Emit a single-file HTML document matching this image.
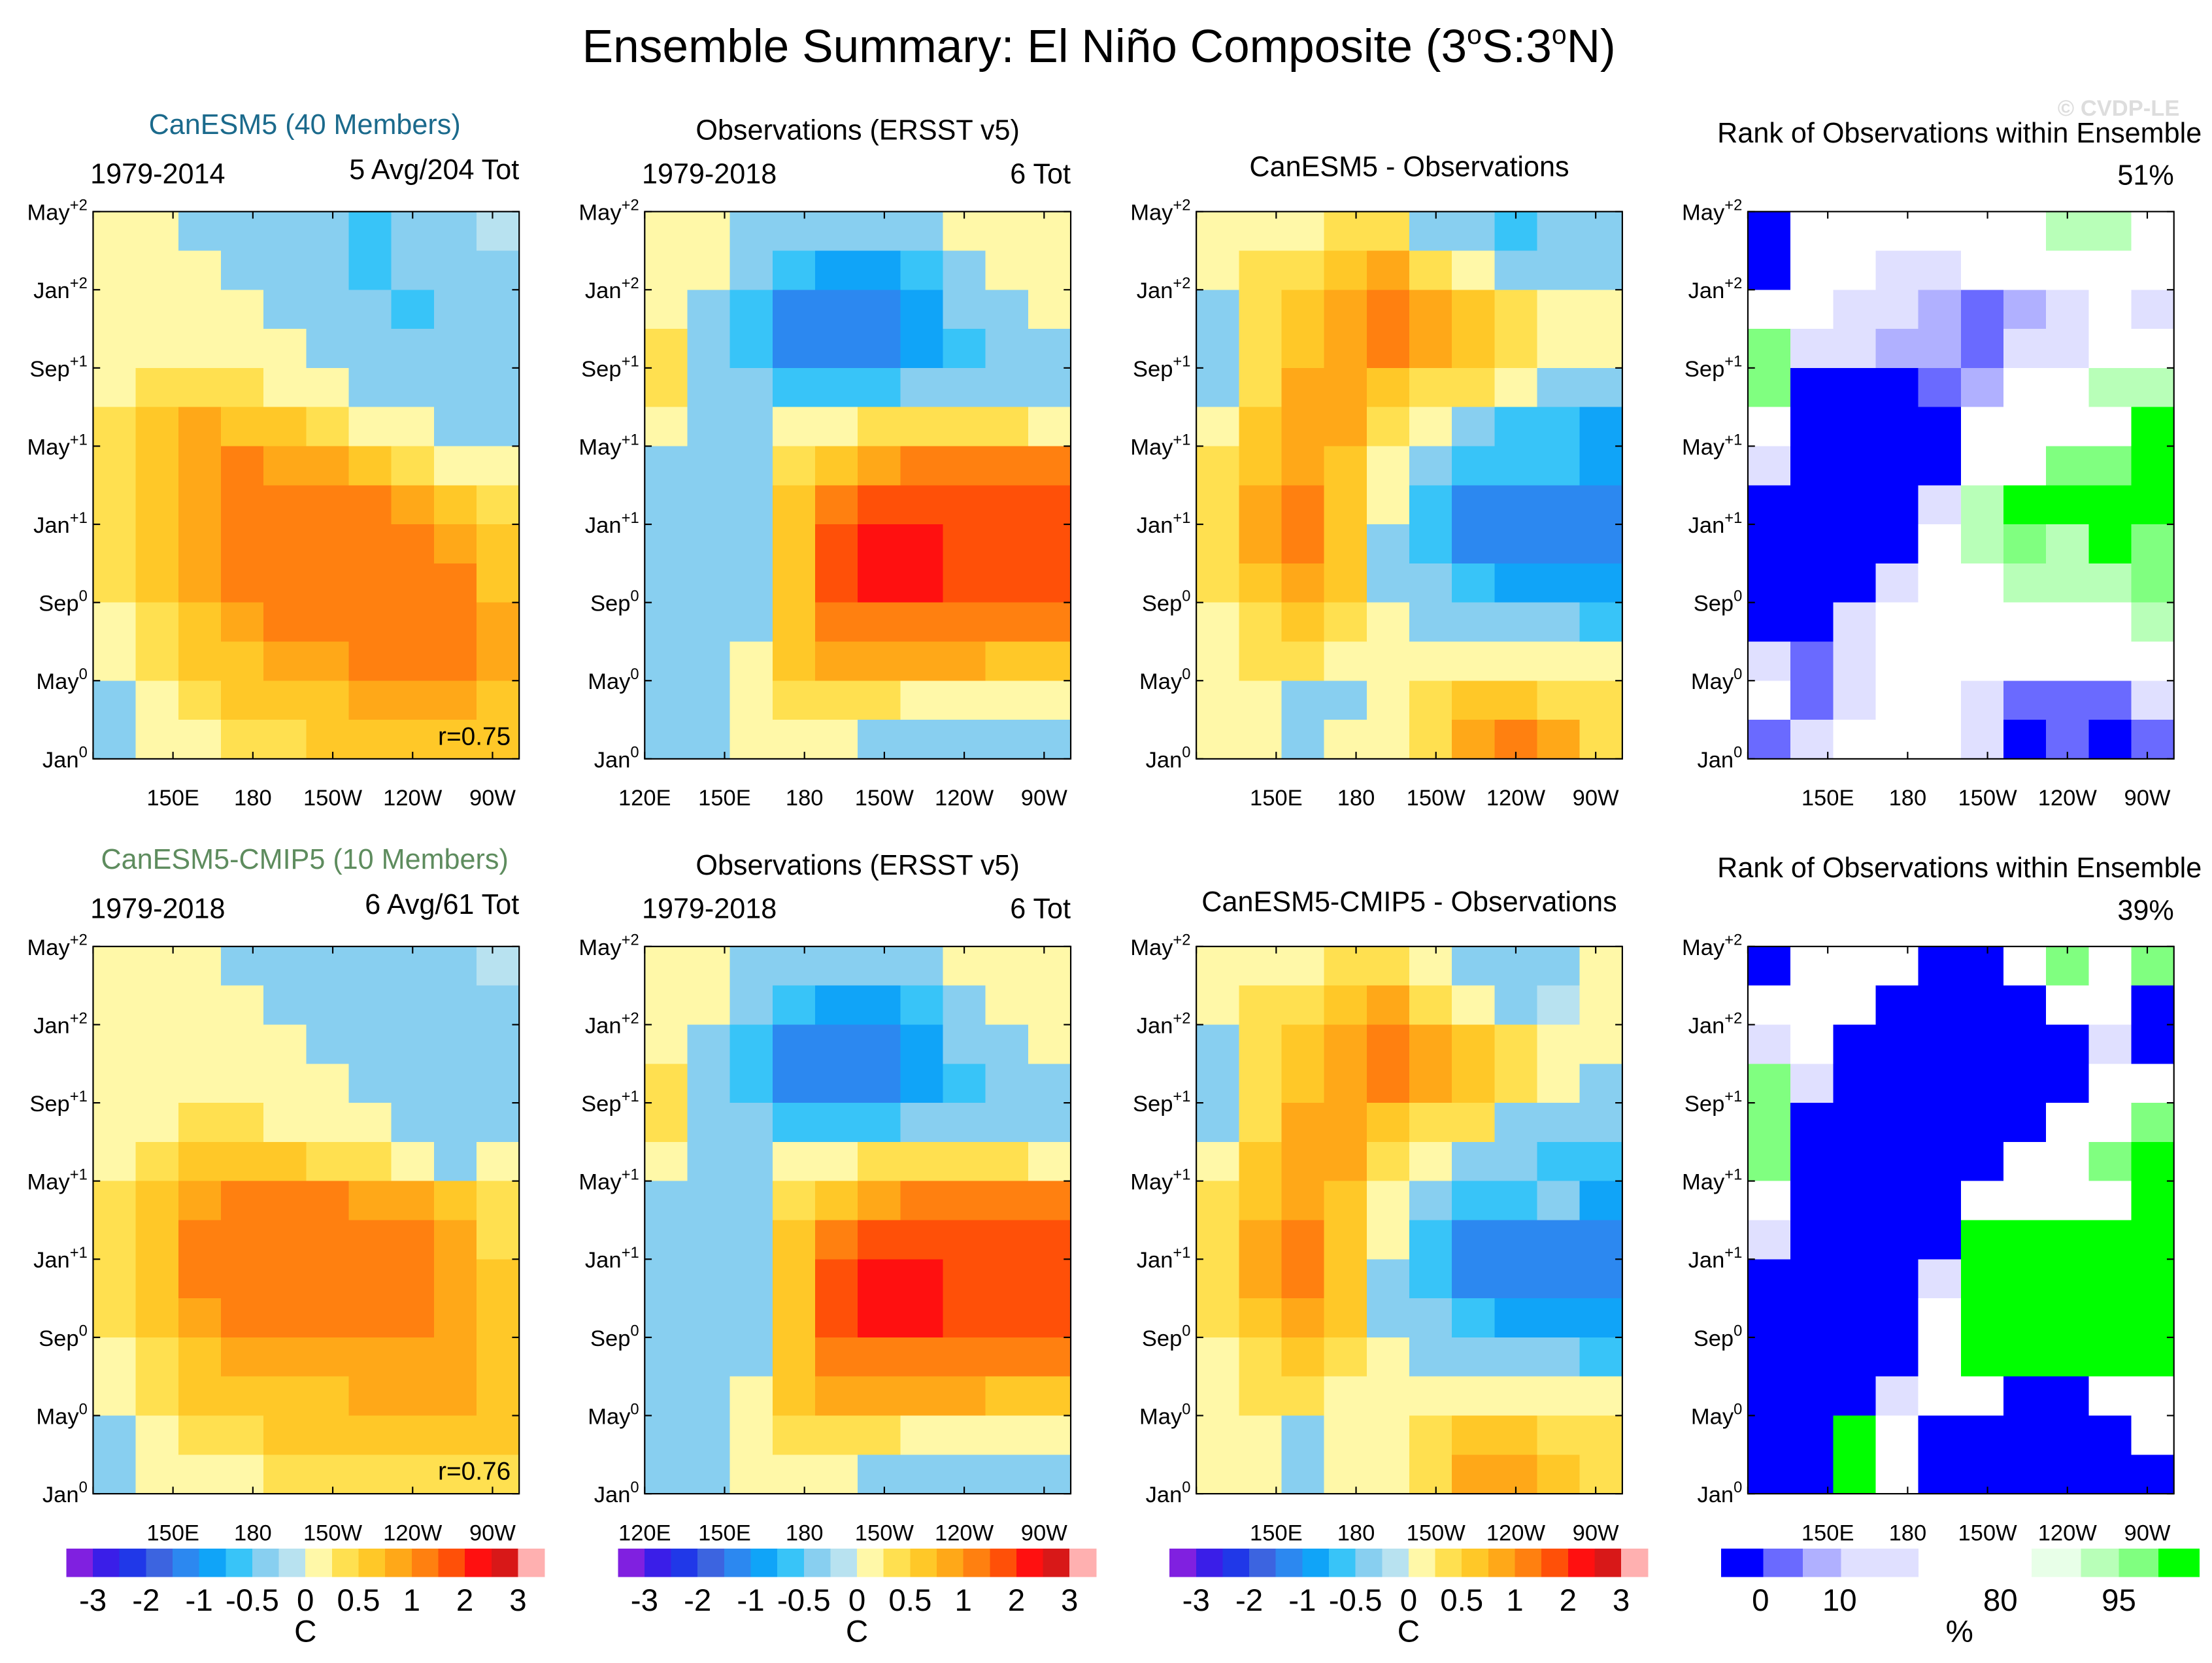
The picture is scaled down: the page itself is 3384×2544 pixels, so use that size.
<!DOCTYPE html>
<html><head><meta charset="utf-8"><style>
html,body{margin:0;padding:0;background:#fff;}
svg{display:block;font-family:"Liberation Sans",Arial,sans-serif;}
</style></head><body>
<svg id="fig" width="3384" height="2544" viewBox="0 0 1568 1179" preserveAspectRatio="none" xmlns="http://www.w3.org/2000/svg">
<rect width="1568" height="1179" fill="#fff"/>
<text x="779" y="44" font-size="33" text-anchor="middle">Ensemble Summary: El Niño Composite (3<tspan dy="-13" font-size="19">o</tspan><tspan dy="13">S:3</tspan><tspan dy="-13" font-size="19">o</tspan><tspan dy="13">N)</tspan></text>
<text x="1545" y="82" font-size="16" text-anchor="end" fill="#ddd" font-weight="bold">© CVDP-LE</text>
<g id="layer"></g>
</svg>
<script>
// ---- data (rows listed top = May+2 down to bottom = Jan0; columns 120E -> 80W) ----
const lonTicks = [120,150,180,210,240,270];
const lonTickLabels = ["120E","150E","180","150W","120W","90W"];
const monthTicks = [0,4,8,12,16,20,24,28];
const monthTickNames = ["Jan","May","Sep","Jan","May","Sep","Jan","May"];
const monthTickSups = ["0","0","0","+1","+1","+1","+2","+2"];
const sstLevels = [-3,-2.5,-2,-1.5,-1,-0.75,-0.5,-0.25,0,0.25,0.5,0.75,1,1.5,2,2.5,3];
const sstBarLabels = ["-3","-2","-1","-0.5","0","0.5","1","2","3"];
const rankLevels = [5,10,20,40,80,90,95,97.5];

const canesm5 = [
[0.1,0.1,-0.3,-0.3,-0.3,-0.4,-0.6,-0.3,-0.3,-0.1],
[0.1,0.1,0.1,-0.3,-0.3,-0.4,-0.6,-0.4,-0.3,-0.3],
[0.1,0.1,0.1,0.1,-0.3,-0.3,-0.4,-0.6,-0.4,-0.3],
[0.1,0.1,0.1,0.1,0.1,-0.3,-0.3,-0.4,-0.4,-0.3],
[0.2,0.3,0.4,0.3,0.2,0.1,-0.3,-0.3,-0.3,-0.3],
[0.3,0.6,0.8,0.6,0.5,0.3,0.2,0.1,-0.3,-0.3],
[0.3,0.6,0.9,1.1,0.9,0.8,0.6,0.4,0.2,0.1],
[0.3,0.6,0.9,1.1,1.1,1.1,1.0,0.8,0.6,0.3],
[0.3,0.6,0.9,1.1,1.1,1.2,1.1,1.1,0.9,0.6],
[0.3,0.5,0.8,1.0,1.1,1.2,1.2,1.1,1.0,0.6],
[0.2,0.4,0.6,0.9,1.0,1.1,1.1,1.2,1.1,0.8],
[0.1,0.3,0.5,0.7,0.8,0.9,1.0,1.1,1.0,0.8],
[-0.3,0.2,0.3,0.5,0.6,0.7,0.8,0.9,0.9,0.7],
[-0.3,0.1,0.2,0.3,0.4,0.5,0.6,0.7,0.7,0.6]];
const observations = [
[0.1,0.1,-0.3,-0.3,-0.4,-0.4,-0.4,0.1,0.1,0.1],
[0.1,0.1,-0.3,-0.6,-0.9,-0.9,-0.6,-0.3,0.1,0.1],
[0.1,-0.3,-0.6,-1.1,-1.1,-1.1,-0.9,-0.4,-0.3,0.1],
[0.3,-0.3,-0.6,-1.1,-1.1,-1.1,-0.9,-0.6,-0.4,-0.3],
[0.3,-0.3,-0.4,-0.6,-0.6,-0.6,-0.4,-0.4,-0.3,-0.3],
[0.1,-0.3,-0.3,0.1,0.1,0.3,0.3,0.3,0.3,0.1],
[-0.3,-0.3,-0.3,0.3,0.7,0.9,1.1,1.1,1.1,1.2],
[-0.3,-0.4,-0.3,0.6,1.2,1.6,1.6,1.6,1.5,1.6],
[-0.3,-0.4,-0.3,0.6,1.6,2.1,2.1,1.8,1.6,1.6],
[-0.4,-0.3,-0.4,0.6,1.5,2.0,2.0,1.8,1.6,1.5],
[-0.4,-0.3,-0.3,0.6,1.1,1.2,1.2,1.2,1.1,1.1],
[-0.3,-0.3,0.1,0.6,0.8,0.8,0.8,0.8,0.6,0.6],
[-0.3,-0.3,0.1,0.3,0.3,0.3,0.2,0.1,0.1,0.1],
[-0.3,-0.3,0.1,0.2,0.1,-0.3,-0.3,-0.3,-0.3,-0.3]];
const diffCanesm5 = [
[0.1,0.1,0.1,0.3,0.3,-0.3,-0.4,-0.6,-0.4,-0.3],
[0.1,0.3,0.3,0.6,0.8,0.4,0.1,-0.3,-0.3,-0.3],
[-0.3,0.3,0.6,0.8,1.0,0.8,0.6,0.3,0.1,0.1],
[-0.3,0.3,0.6,0.9,1.1,0.9,0.6,0.3,0.1,0.1],
[-0.3,0.4,0.8,0.8,0.6,0.4,0.3,0.1,-0.3,-0.4],
[0.1,0.6,0.9,0.8,0.4,0.1,-0.3,-0.6,-0.6,-0.9],
[0.3,0.6,0.9,0.6,0.1,-0.4,-0.6,-0.6,-0.6,-0.9],
[0.3,0.8,1.1,0.6,0.1,-0.6,-1.1,-1.1,-1.1,-1.1],
[0.3,0.8,1.1,0.6,-0.3,-0.6,-1.1,-1.1,-1.1,-1.2],
[0.3,0.6,0.8,0.5,-0.3,-0.4,-0.6,-0.9,-0.9,-0.9],
[0.1,0.4,0.6,0.3,0.1,-0.3,-0.3,-0.3,-0.3,-0.6],
[0.1,0.3,0.3,0.1,0.1,0.1,0.1,0.1,0.1,0.1],
[0.1,0.1,-0.3,-0.3,0.1,0.3,0.6,0.6,0.3,0.3],
[0.1,0.1,-0.3,0.1,0.1,0.3,0.8,1.1,0.8,0.3]];
const rankCanesm5 = [
[3,50,50,50,50,50,50,92,92,50],
[3,50,50,25,25,50,50,50,50,50],
[50,50,25,25,15,8,15,25,50,25],
[97,25,25,15,15,8,25,25,50,50],
[97,3,3,3,8,15,50,50,92,92],
[50,3,3,3,3,50,50,50,50,99],
[25,3,3,3,3,50,50,95,95,99],
[3,3,3,3,25,92,99,99,99,99],
[3,3,3,3,50,92,97,92,99,97],
[3,3,3,25,50,50,92,92,92,97],
[3,3,25,50,50,50,50,50,50,92],
[25,8,25,50,50,50,50,50,50,50],
[50,8,25,50,50,25,8,8,8,25],
[8,25,50,50,50,25,3,8,3,8]];
const cmip5 = [
[0.1,0.1,0.1,-0.3,-0.3,-0.3,-0.3,-0.3,-0.3,-0.1],
[0.1,0.1,0.1,0.1,-0.3,-0.3,-0.4,-0.3,-0.3,-0.3],
[0.1,0.1,0.1,0.1,0.1,-0.3,-0.4,-0.4,-0.3,-0.3],
[0.1,0.1,0.1,0.1,0.1,0.1,-0.3,-0.4,-0.4,-0.3],
[0.1,0.2,0.3,0.3,0.2,0.1,0.1,-0.3,-0.4,-0.3],
[0.2,0.4,0.6,0.6,0.5,0.4,0.3,0.1,-0.3,0.1],
[0.3,0.6,0.9,1.1,1.1,1.0,0.9,0.8,0.6,0.3],
[0.3,0.6,1.0,1.1,1.1,1.1,1.1,1.1,0.8,0.4],
[0.3,0.6,1.0,1.1,1.1,1.1,1.1,1.1,0.9,0.6],
[0.3,0.5,0.9,1.0,1.1,1.1,1.1,1.1,0.9,0.6],
[0.2,0.4,0.6,0.8,0.9,0.9,0.9,0.9,0.8,0.6],
[0.1,0.3,0.5,0.6,0.7,0.7,0.8,0.9,0.8,0.6],
[-0.3,0.1,0.3,0.4,0.5,0.5,0.6,0.6,0.6,0.5],
[-0.3,0.1,0.1,0.2,0.3,0.3,0.3,0.4,0.4,0.3]];
const diffCmip5 = [
[0.1,0.1,0.1,0.3,0.3,0.1,-0.3,-0.3,-0.3,0.1],
[0.1,0.3,0.4,0.6,0.8,0.4,0.1,-0.3,-0.1,0.1],
[-0.3,0.3,0.6,0.9,1.1,0.8,0.6,0.3,0.1,0.1],
[-0.3,0.3,0.6,0.9,1.1,0.9,0.6,0.3,0.1,-0.3],
[-0.3,0.4,0.8,0.8,0.6,0.4,0.3,-0.3,-0.4,-0.4],
[0.1,0.6,0.9,0.8,0.4,0.1,-0.3,-0.4,-0.6,-0.6],
[0.3,0.6,0.9,0.6,0.1,-0.4,-0.6,-0.6,-0.4,-0.9],
[0.3,0.8,1.1,0.6,0.1,-0.6,-1.1,-1.1,-1.1,-1.1],
[0.3,0.8,1.1,0.6,-0.3,-0.6,-1.1,-1.1,-1.1,-1.2],
[0.3,0.6,0.8,0.5,-0.3,-0.4,-0.6,-0.9,-0.9,-0.9],
[0.1,0.4,0.6,0.3,0.1,-0.3,-0.3,-0.4,-0.4,-0.6],
[0.1,0.3,0.3,0.1,0.1,0.1,0.1,0.1,0.1,0.1],
[0.1,0.1,-0.3,0.1,0.1,0.3,0.6,0.6,0.3,0.3],
[0.1,0.1,-0.3,0.1,0.1,0.3,0.8,0.9,0.6,0.3]];
const rankCmip5 = [
[3,50,50,50,3,3,50,97,50,97],
[50,50,50,3,3,3,3,50,50,3],
[25,50,3,3,3,3,3,3,25,3],
[97,25,3,3,3,3,3,3,50,50],
[97,3,3,3,3,3,3,50,50,97],
[97,3,3,3,3,3,50,50,97,99],
[50,3,3,3,3,50,50,50,50,99],
[25,3,3,3,3,99,99,99,99,99],
[3,3,3,3,25,99,99,99,99,99],
[3,3,3,3,50,99,99,99,99,99],
[3,3,3,3,50,99,99,99,99,99],
[3,3,3,25,50,50,3,3,50,50],
[3,3,99,50,3,3,3,3,3,50],
[3,3,99,50,3,3,3,3,3,3]];

// ---- styles ----
const sstColors = ["#8020e0","#3a1ee8","#2038e8","#3c64e0","#2c88f0","#10a4f8","#38c4f8","#88cff0","#b8e2f0","#fff8a8","#ffe050","#ffc828","#ffa818","#ff8010","#ff5008","#ff1010","#d81818","#ffb0b0"];
const rankColors = ["#0000ff","#6a6aff","#b0b0ff","#e0e0ff","#ffffff","#e8ffe8","#b8ffb8","#80ff80","#00ff00"];
const NS="http://www.w3.org/2000/svg";
const layer=document.getElementById('layer');
function mk(tag,attrs,parent){const e=document.createElementNS(NS,tag);for(const k in attrs)e.setAttribute(k,attrs[k]);(parent||layer).appendChild(e);return e;}
function colorIdx(v,levels){let i=0;while(i<levels.length&&v>=levels[i])i++;return i;}

const PW=302, PH=388, LON0=120, LON1=280, MONTHS=28;
function panel(x0,y0,grid,isRank,name,firstTick){
  const xs=lon=>x0+(lon-LON0)/(LON1-LON0)*PW;
  const ys=m=>y0+PH-m/MONTHS*PH;
  const g=mk('g',{'shape-rendering':'crispEdges'});
  
  
  const nr=grid.length, nc=grid[0].length;
  const dl=(LON1-LON0)/nc, dm=MONTHS/nr;
  grid.forEach((row,r)=>row.forEach((v,c)=>{
    const x1=xs(LON0+c*dl), x2=xs(LON0+(c+1)*dl);
    const yt=ys(MONTHS-r*dm), yb=ys(MONTHS-(r+1)*dm);
    const col=isRank?rankColors[colorIdx(v,rankLevels)]:sstColors[colorIdx(v,sstLevels)];
    const cell=mk('rect',{x:x1,y:yt,width:x2-x1+0.4,height:yb-yt+0.4,fill:col},g);
    
    
  }));
  const fr=mk('rect',{x:x0,y:y0,width:PW,height:PH,fill:'none',stroke:'#000','stroke-width':1});
  
  
  monthTicks.forEach((m,i)=>{
    mk('line',{x1:x0,x2:x0+5,y1:ys(m),y2:ys(m),stroke:'#000'});
    mk('line',{x1:x0+PW,x2:x0+PW-5,y1:ys(m),y2:ys(m),stroke:'#000'});
    const t=mk('text',{x:x0-4,y:ys(m)+6,'font-size':16,'text-anchor':'end'});
    
    
    t.textContent=monthTickNames[i];
    const s=mk('tspan',{dy:-7,'font-size':11},t); s.textContent=monthTickSups[i];
  });
  lonTicks.forEach((l,i)=>{
    mk('line',{x1:xs(l),x2:xs(l),y1:y0+PH,y2:y0+PH-5,stroke:'#000'});
    mk('line',{x1:xs(l),x2:xs(l),y1:y0,y2:y0+5,stroke:'#000'});
    if(i<firstTick)return;
    const t=mk('text',{x:xs(l),y:y0+PH+33,'font-size':16,'text-anchor':'middle'});
    
    
    t.textContent=lonTickLabels[i];
  });
}
function txt(x,y,s,size,anchor,fill,name){
  const t=mk('text',{x:x,y:y,'font-size':size,'text-anchor':anchor||'start',fill:fill||'#000'});
  
  
  t.textContent=s;return t;
}
const cols=[66,457,848,1239], rows=[150,671];
const DY=521;
panel(cols[0],rows[0],canesm5,false,'canesm5-composite-panel',1);
panel(cols[1],rows[0],observations,false,'observations-panel-top',0);
panel(cols[2],rows[0],diffCanesm5,false,'canesm5-minus-obs-panel',1);
panel(cols[3],rows[0],rankCanesm5,true,'rank-panel-canesm5',1);
panel(cols[0],rows[1],cmip5,false,'canesm5-cmip5-composite-panel',1);
panel(cols[1],rows[1],observations,false,'observations-panel-bottom',0);
panel(cols[2],rows[1],diffCmip5,false,'cmip5-minus-obs-panel',1);
panel(cols[3],rows[1],rankCmip5,true,'rank-panel-cmip5',1);

[[0,"CanESM5 (40 Members)","#1b6a8c","5 Avg/204 Tot","1979-2014","r=0.75","CanESM5 - Observations","51%"],
 [1,"CanESM5-CMIP5 (10 Members)","#5e8c5e","6 Avg/61 Tot","1979-2018","r=0.76","CanESM5-CMIP5 - Observations","39%"]].forEach(d=>{
  const o=d[0]*DY;
  txt(216,95+o,d[1],20,'middle',d[2],'model-title');
  txt(64,130+o,d[4],20,'start','#000','model-years');
  txt(368,127+o,d[3],20,'end','#000','model-count');
  txt(362,528+o,d[5],18,'end','#000','pattern-correlation');
  txt(608,99+o,"Observations (ERSST v5)",20,'middle','#000','obs-title');
  txt(455,130+o,"1979-2018",20,'start','#000','obs-years');
  txt(759,130+o,"6 Tot",20,'end','#000','obs-count');
  txt(999,125+o,d[6],20,'middle','#000','difference-title');
  txt(1389,101+o,"Rank of Observations within Ensemble",20,'middle','#000','rank-title');
  txt(1541,131+o,d[7],20,'end','#000','rank-percent');
});

// colorbars
[47,438,829].forEach((x0,k)=>{
  const g=mk('g',{'shape-rendering':'crispEdges'});
  
  
  const bw=339/sstColors.length;
  sstColors.forEach((c,i)=>{const r=mk('rect',{x:x0+i*bw,y:1098,width:bw+0.3,height:20,fill:c},g);
    });
  [0,2,4,6,8,10,12,14,16].forEach((li,j)=>txt(x0+(li+1)*bw,1142,sstBarLabels[j],22,'middle','#000','colorbar-label'));
  txt(x0+169.5,1164,"C",22,'middle','#000','colorbar-unit');
});
const rankBox=[[1220,1250],[1250,1278],[1278,1305],[1305,1360],[1360,1440],[1440,1475],[1475,1502],[1502,1530],[1530,1559]];
const rg=mk('g',{'shape-rendering':'crispEdges'});


rankBox.forEach((b,i)=>{const r=mk('rect',{x:b[0],y:1098,width:b[1]-b[0]+0.3,height:20,fill:rankColors[i]},rg);
  });
[["0",1248],["10",1304],["80",1418],["95",1502]].forEach(l=>txt(l[1],1142,l[0],22,'middle','#000','colorbar-label'));
txt(1389,1164,"%",22,'middle','#000','colorbar-unit');
</script>
</body></html>
